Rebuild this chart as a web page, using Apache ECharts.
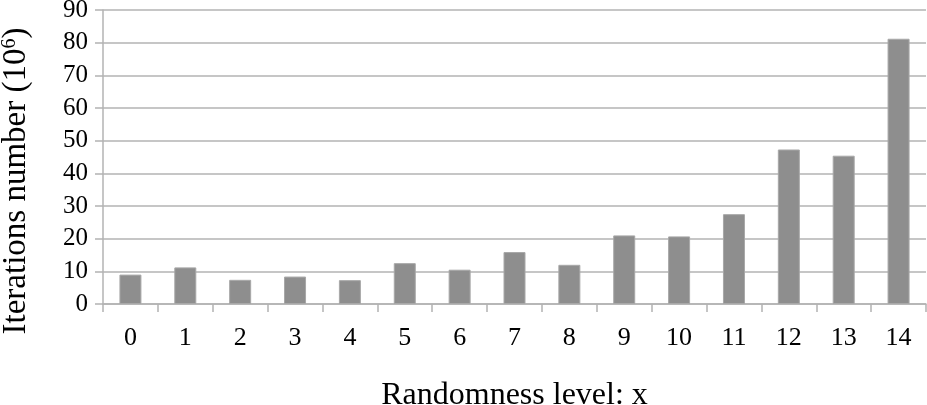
<!DOCTYPE html>
<html><head><meta charset="utf-8">
<script src="https://cdn.jsdelivr.net/npm/echarts@6/dist/echarts.min.js"></script>
<style>html,body{margin:0;padding:0;background:#fff}#c{width:927px;height:405px}</style>
</head><body><div id="c"></div>
<script>
const categories = ['0','1','2','3','4','5','6','7','8','9','10','11','12','13','14'];
const iterations = [9.0, 11.2, 7.4, 8.4, 7.3, 12.5, 10.5, 15.9, 12.0, 21.0, 20.7, 27.5, 47.3, 45.4, 81.2];
const yTicks = {min: 0, max: 90, interval: 10};
const font = '"Liberation Serif", "Times New Roman", serif';
const chart = echarts.init(document.getElementById('c'));
chart.setOption({
  animation: false,
  grid: {left: 103, right: 1, top: 10, bottom: 101, containLabel: false, outerBoundsMode: 'none'},
  xAxis: {
    type: 'category', data: categories, boundaryGap: true,
    name: 'Randomness level: x', nameLocation: 'middle', nameGap: 76,
    nameTextStyle: {fontFamily: font, fontSize: 32, color: '#000'},
    axisLine: {lineStyle: {color: '#b3b3b3', width: 1.5}},
    axisTick: {show: true, length: 8, alignWithLabel: false, lineStyle: {color: '#b3b3b3', width: 1.5}},
    axisLabel: {fontFamily: font, fontSize: 26, color: '#000', margin: 21}
  },
  yAxis: {
    type: 'value', min: yTicks.min, max: yTicks.max, interval: yTicks.interval,
    name: 'Iterations number (10{sup|6})', nameLocation: 'middle', nameGap: 70,
    nameTextStyle: {fontFamily: font, fontSize: 33, color: '#000', padding: [0, 48, 0, 0],
      rich: {sup: {fontFamily: font, fontSize: 20, color: '#000', verticalAlign: 'top', padding: [0,0,12,0]}}},
    axisLine: {show: true, lineStyle: {color: '#b3b3b3', width: 1.5}},
    axisTick: {show: true, length: 8, lineStyle: {color: '#b3b3b3', width: 1.5}},
    splitLine: {lineStyle: {color: '#b3b3b3', width: 1.5}},
    axisLabel: {fontFamily: font, fontSize: 25, color: '#000', margin: 15}
  },
  series: [{
    type: 'bar', data: iterations, barWidth: 22,
    itemStyle: {color: '#8e8e8e', borderColor: '#a8a8a8', borderWidth: 1}
  }]
});
</script></body></html>
